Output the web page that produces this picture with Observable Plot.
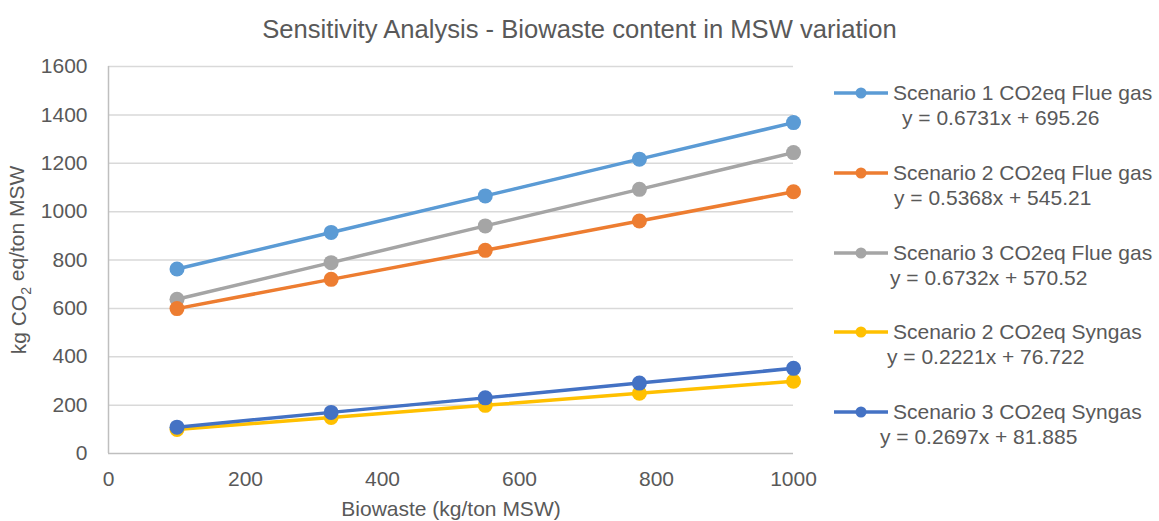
<!DOCTYPE html>
<html>
<head>
<meta charset="utf-8">
<script src="https://cdn.jsdelivr.net/npm/d3@7"></script>
<script src="https://cdn.jsdelivr.net/npm/@observablehq/plot@0.6"></script>
<style>
  body { margin: 0; background: #fff; font-family: "Liberation Sans", Arial, sans-serif; color: #595959; }
  #wrap { position: relative; width: 1159px; height: 521px; overflow: hidden; }
  #title { height: 48px; box-sizing: border-box; padding-top: 17px; font-size: 25.6px; line-height: 25px; text-align: center; }
  .lg { position: absolute; font-size: 21px; line-height: 24px; white-space: nowrap; color: #595959; }
  .sw { position: absolute; }
</style>
</head>
<body>
<div id="wrap">
  <div id="title">Sensitivity Analysis - Biowaste content in MSW variation</div>
  <div id="chart"></div>
</div>
<script>
// Biowaste content of the MSW (kg/ton MSW)
const biowaste = [100, 325, 550, 775, 1000];

// Emissions (kg CO2 eq/ton MSW) per scenario
const s1Flue = [763, 914, 1065, 1217, 1368];
const s2Flue = [599, 720, 840, 961, 1082];
const s3Flue = [638, 789, 941, 1092, 1244];
const s2Syngas = [99, 149, 199, 249, 299];
const s3Syngas = [109, 170, 230, 291, 352];

const seriesNames = [
  "Scenario 1 CO2eq Flue gas",
  "Scenario 2 CO2eq Flue gas",
  "Scenario 3 CO2eq Flue gas",
  "Scenario 2 CO2eq Syngas",
  "Scenario 3 CO2eq Syngas"
];
const seriesValues = [s1Flue, s2Flue, s3Flue, s2Syngas, s3Syngas];
const trendEquations = [
  "y = 0.6731x + 695.26",
  "y = 0.5368x + 545.21",
  "y = 0.6732x + 570.52",
  "y = 0.2221x + 76.722",
  "y = 0.2697x + 81.885"
];
const seriesColors = ["#5B9BD5", "#ED7D31", "#A5A5A5", "#FFC000", "#4472C4"];

const xTicks = [0, 200, 400, 600, 800, 1000];
const yTicks = [0, 200, 400, 600, 800, 1000, 1200, 1400, 1600];

// long-format rows, one per point
const rows = seriesNames.flatMap((name, i) =>
  biowaste.map((x, j) => ({series: name, x, y: seriesValues[i][j]}))
);

// paint order: gray drawn under orange, syngas last
const drawOrder = [0, 2, 1, 3, 4];

const seriesMarks = drawOrder.flatMap(i => {
  const data = rows.filter(d => d.series === seriesNames[i]);
  const c = seriesColors[i];
  return [
    Plot.line(data, {x: "x", y: "y", stroke: c, strokeWidth: 3.5}),
    Plot.linearRegressionY(data, {x: "x", y: "y", stroke: c, strokeWidth: 2, strokeDasharray: "2,3", ci: 0}),
    Plot.dot(data, {x: "x", y: "y", r: 7.5, fill: c, stroke: "none"})
  ];
});

const chart = Plot.plot({
  width: 830,
  height: 473,
  marginTop: 18,
  marginBottom: 68,
  marginLeft: 108,
  marginRight: 37,
  style: {fontFamily: "'Liberation Sans', Arial, sans-serif", fontSize: "21px", color: "#595959", background: "transparent"},
  x: {domain: [0, 1000]},
  y: {domain: [0, 1600]},
  marks: [
    Plot.gridY(yTicks.slice(1), {stroke: "#d9d9d9", strokeOpacity: 1, strokeWidth: 1.5}),
    Plot.ruleY([0], {stroke: "#bfbfbf", strokeWidth: 1.5}),
    Plot.ruleX([0], {stroke: "#bfbfbf", strokeWidth: 1.5}),
    Plot.axisY({ticks: yTicks, tickFormat: d => String(d), tickSize: 0, tickPadding: 21, label: "kg CO2 eq/ton MSW", labelAnchor: "center", labelArrow: "none", labelOffset: 97, fill: "#595959"}),
    Plot.axisX({ticks: xTicks, tickFormat: d => String(d), tickSize: 0, tickPadding: 18, label: "Biowaste (kg/ton MSW)", labelAnchor: "center", labelArrow: "none", labelOffset: 62, fill: "#595959"}),
    ...seriesMarks
  ]
});
document.getElementById("chart").appendChild(chart);

// subscript the 2 of CO2 in the y-axis title
d3.select(chart).selectAll("g[aria-label='y-axis label'] text").each(function() {
  const t = d3.select(this);
  t.text(null);
  t.append("tspan").text("kg CO");
  t.append("tspan").attr("dy", "0.3em").attr("font-size", "14px").text("2");
  t.append("tspan").attr("dy", "-0.3em").text(" eq/ton MSW");
});

// legend on the right
const wrap = document.getElementById("wrap");
const eqLeft = [902, 894, 890, 887, 880];
seriesNames.forEach((name, i) => {
  const cy = 93 + i * 79.75;
  const sw = d3.create("svg").attr("class", "sw").attr("width", 56).attr("height", 16)
    .style("left", "834px").style("top", (cy - 8) + "px");
  sw.append("line").attr("x1", 0).attr("x2", 54).attr("y1", 8).attr("y2", 8)
    .attr("stroke", seriesColors[i]).attr("stroke-width", 3.5);
  sw.append("circle").attr("cx", 27).attr("cy", 8).attr("r", 5.5).attr("fill", seriesColors[i]);
  wrap.appendChild(sw.node());

  const lab = document.createElement("div");
  lab.className = "lg";
  lab.style.left = "893px";
  lab.style.top = (cy - 12) + "px";
  lab.textContent = name;
  wrap.appendChild(lab);

  const eq = document.createElement("div");
  eq.className = "lg";
  eq.style.left = eqLeft[i] + "px";
  eq.style.top = (cy + 25 - 12) + "px";
  eq.textContent = trendEquations[i];
  wrap.appendChild(eq);
});
</script>
</body>
</html>
